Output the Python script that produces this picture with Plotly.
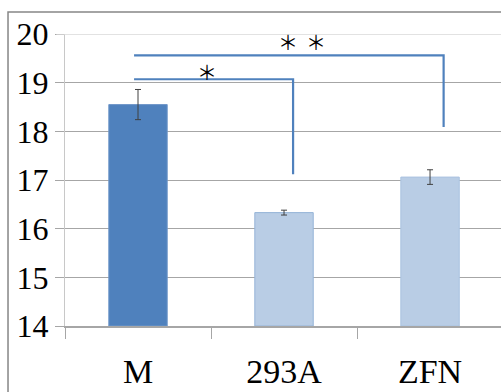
import plotly.graph_objects as go

categories = ["M", "293A", "ZFN"]
values = [18.55, 16.33, 17.06]
errors = [0.31, 0.05, 0.15]
bar_colors = ["#4F81BD", "#B9CDE5", "#B9CDE5"]
bar_edges = ["#6F97C9", "#95B3D7", "#A9C2E0"]

# significance brackets (x in category index units, y in data units)
bracket1_x = [-0.027, 1.062, 1.062]
bracket1_y = [19.07, 19.07, 17.12]
bracket2_x = [-0.027, 2.093, 2.093]
bracket2_y = [19.56, 19.56, 18.09]
star_x = [0.473, 1.027, 1.219]
star_y = [19.22, 19.85, 19.85]

SERIF = "Liberation Serif, DejaVu Serif, serif"

fig = go.Figure()
fig.add_trace(go.Bar(
    x=[0, 1, 2], y=[v - 14 for v in values], base=14,
    width=0.4,
    marker=dict(color=bar_colors, line=dict(color=bar_edges, width=1)),
    error_y=dict(type="data", array=errors, color="#404040", thickness=1, width=3),
    showlegend=False,
))
for bx, by in [(bracket1_x, bracket1_y), (bracket2_x, bracket2_y)]:
    fig.add_trace(go.Scatter(x=bx, y=by, mode="lines",
                             line=dict(color="#4F81BD", width=2.2),
                             showlegend=False, hoverinfo="skip"))

for sx, sy in zip(star_x, star_y):
    fig.add_annotation(x=sx, y=sy, text="＊", showarrow=False,
                       font=dict(family="Noto Sans CJK JP", size=20, color="#000000"),
                       xanchor="center", yanchor="middle")

# top gridline lighter
fig.add_shape(type="line", xref="paper", yref="y", x0=-0.02, x1=1.01, y0=20, y1=20,
              line=dict(color="#D9D9D9", width=1.5), layer="above")
# outer chart border
fig.add_shape(type="rect", xref="paper", yref="paper",
              x0=-0.1307, x1=1.05, y0=-0.3, y1=1.0753,
              line=dict(color="#868686", width=1.5), layer="above")

fig.update_layout(
    width=501, height=392,
    margin=dict(l=65, r=0, t=34, b=66),
    paper_bgcolor="white", plot_bgcolor="white",
    font=dict(family=SERIF, color="#000000"),
)
fig.update_xaxes(
    type="linear", range=[-0.5, 2.486],
    tickmode="array", tickvals=[0, 1, 2], ticktext=categories,
    ticks="outside", ticklen=14, tickcolor="rgba(255,255,255,0)", showgrid=False,
    minor=dict(tickmode="array", tickvals=[-0.5, 0.5, 1.5], ticks="outside",
               ticklen=11, tickcolor="#A6A6A6", showgrid=False),
    showline=True, linecolor="#A6A6A6", linewidth=1.5,
    tickfont=dict(family=SERIF, size=34), zeroline=False,
)
fig.update_yaxes(
    range=[14, 20], dtick=1, tick0=14,
    ticks="outside", ticklen=9, tickcolor="#A6A6A6",
    showgrid=True, gridcolor="#A6A6A6", gridwidth=1.2,
    showline=True, linecolor="#C8C8C8", linewidth=1,
    tickfont=dict(family=SERIF, size=32), zeroline=False,
)
post = (
    "document.body.style.margin='0';document.body.style.overflow='hidden';"
    "var s=document.createElement('style');"
    "s.textContent='.modebar-container{display:none !important;}';"
    "document.head.appendChild(s);"
    "var gd=document.getElementById('{plot_id}');"
    "if(document.fonts&&document.fonts.load){"
    "Promise.all([document.fonts.load('32px \"Liberation Serif\"'),"
    "document.fonts.load('20px \"Noto Sans CJK JP\"')]).then(function(){"
    "Plotly.relayout(gd,{'font.family':'Liberation Serif, DejaVu Serif, serif'});});}"
)
fig.write_html("out.html", post_script=post)
